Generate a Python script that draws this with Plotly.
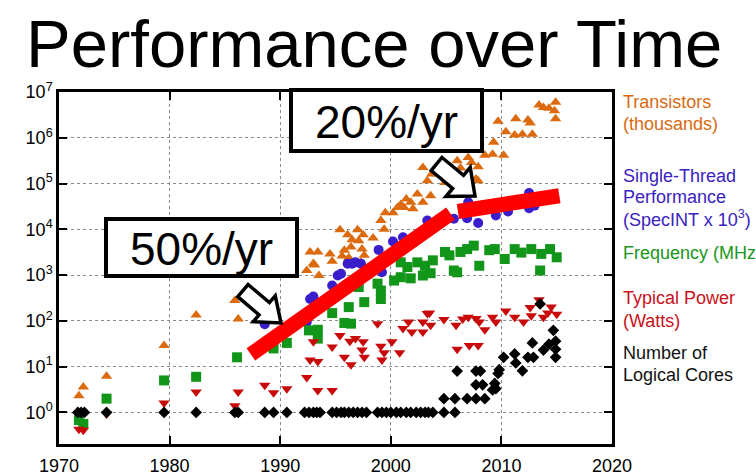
import plotly.graph_objects as go

# ---------------- data ----------------
transistor_years = [1971.8, 1972.2, 1974.3, 1979.5, 1982.4, 1985.9, 1986.2,
    1992.4, 1993.1, 1993.5, 1992.7, 1993.4, 1994.5, 1993.0, 1994.7, 1995.4, 1996.1,
    1997.0, 1997.5, 1996.5, 1997.1, 1995.8, 1996.4, 1997.4, 1995.6, 1996.2, 1997.6,
    1997.3, 1998.4, 1999.1, 1999.4, 1999.5, 2000.2, 2000.6, 2000.9, 2001.2, 2001.4,
    2001.8, 2002.0, 2002.4, 2002.9, 2003.6, 2003.3, 2002.9, 2003.7, 2004.2, 2004.9,
    2006.0, 2007.0, 2007.3, 2006.3, 2007.9, 2007.7, 2007.9, 2008.5, 2009.2, 2009.3,
    2010.2, 2009.7, 2010.4, 2011.2, 2011.9, 2012.8, 2011.3, 2012.4, 2012.6, 2013.4,
    2013.8, 2014.3, 2014.9, 2014.8, 2014.9]
transistor_values = [2.3, 3.6, 6.2, 29, 135, 280, 110,
    1260, 1660, 980, 3200, 3200, 2900, 1800, 2000, 9800, 7600,
    9800, 7600, 5900, 5600, 3500, 4100, 3700, 2600, 2400, 2700,
    1900, 6500, 15500, 10000, 23000, 23000, 30000, 35000, 30000, 46000,
    39000, 28000, 59000, 39000, 54000, 115000, 224000, 162000, 162000, 105000,
    316000, 372000, 288000, 219000, 234000, 126000, 115000, 417000, 437000, 794000,
    417000, 2.3e6, 1.35e6, 1.15e6, 1.2e6, 1.2e6, 2.6e6, 2.45e6, 2.1e6, 5.2e6,
    4.6e6, 4.4e6, 6.0e6, 3.9e6, 2.6e6]

perf_years = [1988.6, 1992.4, 1992.7, 1993.0, 1994.7, 1995.2, 1995.5, 1996.1,
    1996.5, 1996.8, 1997.3, 1998.9, 1999.2, 2000.2, 2001.1, 2003.3, 2005.7,
    2006.9, 2007.0, 2007.9, 2009.5, 2010.6, 2012.5, 2013.0, 2012.5]
perf_values = [84, 94, 300, 340, 590, 980, 1070, 1780,
    1780, 1900, 1780, 3550, 1150, 5400, 6700, 15500, 17000,
    17400, 39000, 13800, 20000, 24500, 29000, 33000, 62000]

freq_years = [1971.8, 1972.2, 1974.3, 1979.5, 1982.4, 1986.1, 1989.4, 1990.6,
    1992.6, 1993.4, 1993.4, 1994.7, 1996.2, 1996.4, 1995.8, 1997.6, 1997.1, 1999.1,
    1999.1, 1998.8, 2000.3, 2000.9, 2001.8, 2002.9, 2003.6, 2006.0, 2000.9, 2001.5,
    2002.4, 2003.1, 2003.8, 2004.9, 2005.3, 2005.7, 2006.3, 2006.9, 2007.5, 2008.0,
    2008.9, 2009.4, 2010.3, 2011.2, 2011.8, 2012.7, 2013.5, 2013.6, 2014.4, 2015.0]
freq_values = [0.68, 0.56, 2.0, 5.0, 6.0, 16, 25, 33,
    62, 64, 41, 148, 200, 87, 90, 257, 550, 460,
    300, 650, 760, 900, 850, 980, 1100, 1150, 1900, 1500,
    1900, 1600, 2100, 3200, 2700, 1260, 3200, 3700, 4400, 1600,
    3500, 3700, 2250, 3700, 3100, 3700, 1260, 2900, 3700, 2450]

power_years = [1971.8, 1972.2, 1974.3, 1979.5, 1982.4, 1985.9, 1986.2, 1988.6,
    1989.4, 1990.6, 1992.4, 1993.4, 1994.7, 1992.7, 1993.4, 1993.0, 1994.7, 1995.4,
    1996.8, 1996.3, 1995.8, 1996.4, 1997.5, 1997.4, 1997.6, 1998.8, 1999.1, 1999.4,
    1999.2, 2000.1, 2000.8, 2001.1, 2001.6, 2001.9, 2002.9, 2002.9, 2003.5, 2003.6,
    2004.8, 2005.9, 2006.0, 2007.0, 2007.1, 2007.9, 2007.7, 2008.0, 2008.5, 2009.2,
    2009.5, 2010.4, 2011.2, 2012.0, 2012.6, 2012.7, 2013.4, 2013.8, 2014.2, 2014.5,
    2015.0, 2003.3, 2006.5]
power_values = [0.43, 0.41, 0.92, 1.6, 2.8, 1.4, 2.8, 3.9,
    2.7, 3.3, 5.8, 3.0, 3.0, 14, 13, 35, 27, 48,
    41, 36, 16, 11, 35, 23, 16, 87, 28, 20,
    14, 35, 20, 68, 94, 57, 94, 57, 148, 80,
    107, 80, 24, 120, 29, 29, 112, 94, 64, 120,
    94, 165, 120, 94, 195, 130, 290, 120, 148, 200,
    140, 145, 110]

cores_years = [1971.7, 1972.0, 1972.3, 1974.3, 1979.5, 1982.4, 1985.9, 1986.2,
    1988.6, 1989.4, 1990.6, 1992.2, 1992.6, 1993.0, 1993.3, 1993.6, 1994.7, 1995.1,
    1995.5, 1995.8, 1996.2, 1996.6, 1997.0, 1997.4, 1997.8, 1998.8, 1999.2, 1999.6,
    2000.0, 2000.5, 2000.9, 2001.4, 2001.8, 2002.3, 2002.7, 2003.1, 2003.4, 2003.8,
    2004.8, 2005.8,
    2004.8, 2005.8, 2006.9, 2007.7, 2008.5,
    2007.7, 2008.3, 2006.0, 2007.7, 2008.1,
    2009.4, 2009.5, 2009.2, 2009.7, 2009.8,
    2010.2, 2011.2, 2011.3, 2011.9, 2012.4, 2012.9, 2012.8, 2013.5, 2013.8, 2014.3,
    2014.7, 2014.9, 2014.9, 2014.9]
cores_values = [1, 1, 1, 1, 1, 1, 1, 1,
    1, 1, 1, 1, 1, 1, 1, 1, 1, 1,
    1, 1, 1, 1, 1, 1, 1, 1, 1, 1,
    1, 1, 1, 1, 1, 1, 1, 1, 1, 1,
    1, 1,
    2, 2, 2, 2, 2,
    4, 4, 8, 8, 8,
    4.3, 3.3, 3.1, 7.1, 8.6,
    16, 19, 12, 8.1, 16, 16, 33, 235, 23, 31,
    62, 36, 24, 16]

trend50_years = [1987.35, 2005.4]
trend50_values = [18.5, 21900]
trend20_years = [2006.07, 2015.24]
trend20_values = [24500, 54200]

x_tick_vals = [1970, 1980, 1990, 2000, 2010, 2020]
y_tick_vals = [1, 10, 100, 1e3, 1e4, 1e5, 1e6, 1e7]
y_tick_text = ["10<sup>%d</sup>" % i for i in range(8)]

legend_lines = [
    ("Transistors", "#D86A12", 101.7),
    ("(thousands)", "#D86A12", 123.5),
    ("Single-Thread", "#3A22C0", 175.5),
    ("Performance", "#3A22C0", 197.0),
    ("(SpecINT x 10<sup>3</sup>)", "#3A22C0", 218.5),
    ("Frequency (MHz)", "#1A961A", 253.3),
    ("Typical Power", "#C8101A", 298.3),
    ("(Watts)", "#C8101A", 320.5),
    ("Number of", "#111111", 353.3),
    ("Logical Cores", "#111111", 375.0),
]

# ---------------- layout geometry ----------------
W, H = 756, 475
L, R, T, B = 59, 612, 92, 444
FONT = "Liberation Sans, Arial, Helvetica, sans-serif"


def px(xp):
    return (xp - L) / (R - L)


def py(yp):
    return (B - yp) / (B - T)


fig = go.Figure()

fig.add_trace(go.Scatter(x=transistor_years, y=transistor_values, mode="markers",
                         marker=dict(symbol="triangle-up", size=10, color="#DC6A0E")))
fig.add_trace(go.Scatter(x=perf_years, y=perf_values, mode="markers",
                         marker=dict(symbol="circle", size=10, color="#3A1ECB")))
fig.add_trace(go.Scatter(x=freq_years, y=freq_values, mode="markers",
                         marker=dict(symbol="square", size=10, color="#12961A")))
fig.add_trace(go.Scatter(x=power_years, y=power_values, mode="markers",
                         marker=dict(symbol="triangle-down", size=10, color="#C80A0A")))
fig.add_trace(go.Scatter(x=cores_years, y=cores_values, mode="markers",
                         marker=dict(symbol="diamond", size=9, color="#000000")))
fig.add_trace(go.Scatter(x=trend50_years, y=trend50_values, mode="lines",
                         line=dict(color="#FF0000", width=15)))
fig.add_trace(go.Scatter(x=trend20_years, y=trend20_values, mode="lines",
                         line=dict(color="#FF0000", width=15)))

shapes = []
annotations = []

# boxes with text
for (x0, y0, x1, y1, txt) in [(106, 219, 297, 276, "50%/yr"), (291, 90, 482, 151, "20%/yr")]:
    shapes.append(dict(type="rect", xref="paper", yref="paper",
                       x0=px(x0), x1=px(x1), y0=py(y1), y1=py(y0),
                       fillcolor="white", line=dict(color="black", width=4), layer="above"))
    annotations.append(dict(xref="paper", yref="paper", x=px((x0 + x1) / 2), y=py((y0 + y1) / 2 + 1),
                            text=txt, showarrow=False, xanchor="center", yanchor="middle",
                            font=dict(family=FONT, size=46, color="black")))


def block_arrow(tip, d, length, head_len, head_w, shaft_w):
    tx, ty = tip
    dx, dy = d
    n = (dx ** 2 + dy ** 2) ** 0.5
    dx, dy = dx / n, dy / n
    nx, ny = dy, -dx
    bx, by = tx - head_len * dx, ty - head_len * dy
    cx, cy = tx - length * dx, ty - length * dy
    pts = [
        (cx + shaft_w * nx, cy + shaft_w * ny),
        (bx + shaft_w * nx, by + shaft_w * ny),
        (bx + head_w * nx, by + head_w * ny),
        (tx, ty),
        (bx - head_w * nx, by - head_w * ny),
        (bx - shaft_w * nx, by - shaft_w * ny),
        (cx - shaft_w * nx, cy - shaft_w * ny),
    ]
    path = "M " + " L ".join("%.5f,%.5f" % (px(a), py(b)) for a, b in pts) + " Z"
    return dict(type="path", xref="paper", yref="paper", path=path, fillcolor="white",
                line=dict(color="black", width=3.5), layer="above")


shapes.append(block_arrow((281, 323), (0.762, 0.648), 50, 22, 17, 8))
shapes.append(block_arrow((475, 196), (0.77, 0.64), 50, 22, 19, 8.5))

for txt, col, yp in legend_lines:
    annotations.append(dict(xref="paper", yref="paper", x=px(621), y=py(yp), text=txt,
                            showarrow=False, xanchor="left", yanchor="middle",
                            font=dict(family=FONT, size=18, color=col)))

annotations.append(dict(xref="paper", yref="paper", x=px(374.5), y=py(43),
                        text="Performance over Time", showarrow=False,
                        xanchor="center", yanchor="middle",
                        font=dict(family=FONT, size=67, color="black")))

axis_common = dict(showline=True, linecolor="black", linewidth=2.5, mirror="ticks",
                   ticks="inside", ticklen=8, tickwidth=2, tickcolor="black",
                   showgrid=True, gridcolor="#8a8a8a", gridwidth=1, griddash="dot",
                   zeroline=False, automargin=False,
                   tickfont=dict(family=FONT, size=18, color="black"))

fig.update_layout(
    width=W, height=H,
    margin=dict(l=L, r=W - R, t=T, b=H - B),
    paper_bgcolor="white", plot_bgcolor="white",
    showlegend=False,
    xaxis=dict(range=[1970, 2020], tickvals=x_tick_vals, ticklabelstandoff=4, **axis_common),
    yaxis=dict(type="log", range=[-0.69, 7.0], tickvals=y_tick_vals, ticktext=y_tick_text,
               **axis_common),
    shapes=shapes,
    annotations=annotations,
)

fig.write_html("out.html", config={"displayModeBar": False},
               post_script="document.body.style.margin='0';document.body.style.overflow='hidden';")
